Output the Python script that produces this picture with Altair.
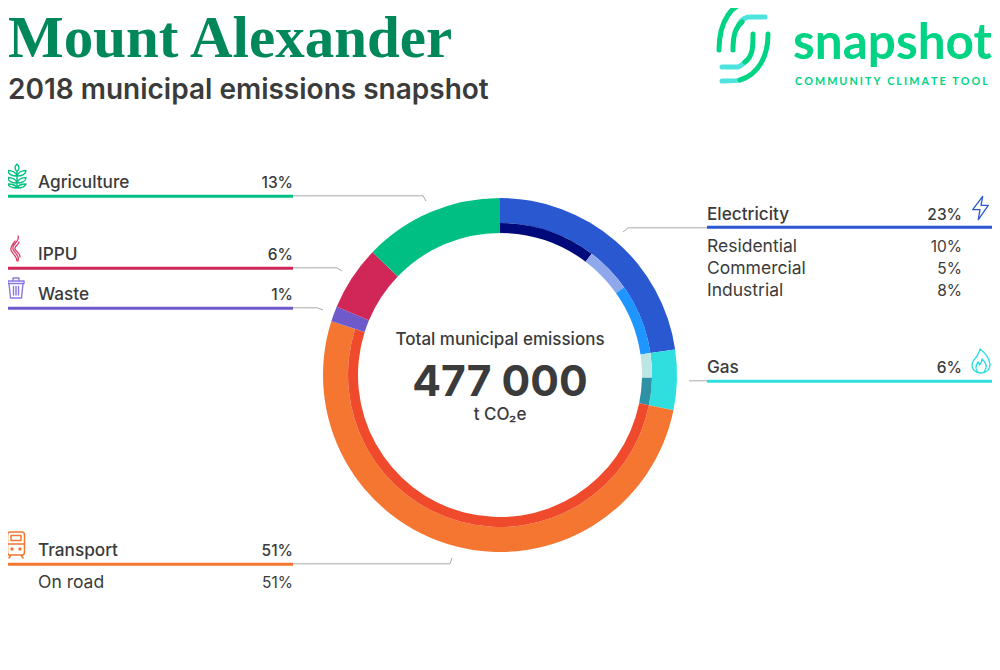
import altair as alt
import pandas as pd

W, H = 984, 640
XS = alt.Scale(domain=[8, 8 + W], range=[0, W], nice=False, zero=False)
YS = alt.Scale(domain=[8, 8 + H], range=[0, H], nice=False, zero=False)
TS = alt.Scale(domain=[0, 100], range=[0, 6.283185307])
X = alt.X("x:Q", scale=XS, axis=None)
Y = alt.Y("y:Q", scale=YS, axis=None)

INK = "#3b3b3c"
# ---- donut ----
CX, CY = 500, 375
outer_names = ["Electricity", "Gas", "Transport"]
outer_share = [22.7, 5.5, 51.7]
outer_colors = ["#2a58d0", "#2fdfdf", "#f47630"]
full_names = ["Waste", "IPPU", "Agriculture"]
full_share = [1.4, 5.9, 12.8]
full_colors = ["#6f5acb", "#d02758", "#00bf82"]
inner_names = ["Residential", "Commercial", "Industrial", "Gas a", "Gas b", "On road"]
inner_share = [10.3, 4.9, 7.5, 2.6, 2.9, 51.7]
inner_colors = ["#000a7a", "#8fa8ec", "#1e96ff", "#bde5e5", "#2f91a5", "#ef4a2c"]


def ring(names, share, colors, r0, r1, offset=0.0):
    rows, c = [], offset
    for n, s, col in zip(names, share, colors):
        rows.append({"x": CX, "y": CY, "name": n, "a": c, "b": c + s, "col": col})
        c += s
    return (
        alt.Chart(pd.DataFrame(rows))
        .mark_arc(radius=r1, radius2=r0)
        .encode(
            x=X, y=Y,
            theta=alt.Theta("a:Q", scale=TS),
            theta2="b:Q",
            color=alt.Color("col:N", scale=None),
        )
    )


# ---- legend rules ----
rule_names = ["Agriculture", "IPPU", "Waste", "Transport", "Electricity", "Gas"]
rule_x0 = [8, 8, 8, 8, 707, 707]
rule_x1 = [293, 293, 293, 293, 992, 992]
rule_y = [196.3, 268.3, 308.3, 564.3, 227.3, 381.3]
rule_colors = ["#00bf82", "#d02758", "#6f5acb", "#f47630", "#2a58d0", "#2fdfdf"]

# ---- leader lines ----
leader_id = ["ag", "ag", "ag", "ip", "ip", "ip", "wa", "wa", "wa", "tr", "tr", "tr", "el", "el", "el", "ga", "ga"]
leader_x = [293, 423, 426, 293, 337, 342, 293, 317, 323, 293, 450, 452, 707, 628, 623, 707, 689]
leader_y = [195.8, 195.8, 201, 267.8, 267.8, 271, 307.8, 307.8, 310, 563.8, 563.8, 558, 227.8, 227.8, 232, 380.8, 380.8]
leader_ord = [0, 1, 2] * 5 + [0, 1]

# ---- texts ----
head_text = ["Agriculture", "IPPU", "Waste", "Transport", "Electricity", "Gas"]
head_x = [38, 38, 38, 38, 707, 707]
head_y = [188, 260, 300, 556, 220, 373]
head_pct = ["13%", "6%", "1%", "51%", "23%", "6%"]
head_px = [293, 293, 293, 293, 962, 962]
sub_text = ["Residential", "Commercial", "Industrial", "On road"]
sub_x = [707, 707, 707, 38]
sub_y = [252, 274, 296, 588]
sub_pct = ["10%", "5%", "8%", "51%"]
sub_px = [962, 962, 962, 293]


def text(xs, ys, ts, size, weight, color=INK, align="left", font="Inter"):
    df = pd.DataFrame({"x": xs, "y": ys, "t": ts})
    return (
        alt.Chart(df)
        .mark_text(font=font, fontSize=size, fontWeight=weight, color=color, align=align, baseline="alphabetic")
        .encode(x=X, y=Y, text="t:N")
    )


def glyph(x, y, path, color, sw=1.0, cap="round", join="round"):
    df = pd.DataFrame({"x": [x], "y": [y], "p": [path]})
    return (
        alt.Chart(df)
        .mark_point(size=4, opacity=1, filled=False, color=color, strokeWidth=sw, strokeCap=cap, strokeJoin=join)
        .encode(x=X, y=Y, shape=alt.Shape("p:N", scale=None))
    )


WHEAT = (
    "M0,-12 C2.6,-10 2.6,-6.5 0,-4.5 C-2.6,-6.5 -2.6,-10 0,-12 Z M0,-4.5 L0,12 "
    "M0,0 C1,-3.5 5,-5.5 9,-5.5 C9,-2 5,0 0,0 Z M0,0 C-1,-3.5 -5,-5.5 -9,-5.5 C-9,-2 -5,0 0,0 Z "
    "M0,7 C1,3.5 5,1.5 9,1.5 C9,5 5,7 0,7 Z M0,7 C-1,3.5 -5,1.5 -9,1.5 C-9,5 -5,7 0,7 Z "
    "M0,12 C1,9.5 5,8 9,8 C8,11 5,12 0,12 Z M0,12 C-1,9.5 -5,8 -9,8 C-8,11 -5,12 0,12 Z"
)
SMOKE = (
    "M2,-13 C5,-8 -5,-5 -3,0 C-2,4 4,6 2,12 M-1,-8 C-3,-5 -6,-2 -5,1 C-4,5 1,7 1,12 "
    "M3,-7 C3,-4 -2,-3 -1,0 C0,3 4,4 4,8"
)
BIN = (
    "M-8,-6 L8,-6 L8,-3.5 L-8,-3.5 Z M-3,-6 L-3,-9 L3,-9 L3,-6 "
    "M-7,-3.5 L-5.5,11 L5.5,11 L7,-3.5 M-2.5,-0.5 L-2.5,8 M0,-0.5 L0,8 M2.5,-0.5 L2.5,8"
)
BOLT = "M2.7,-11.7 L-7.3,1.7 L0,1.7 L-1.7,11.7 L8.3,-2.7 L1,-2.7 Z"
FLAME = (
    "M0,12 C-6,12 -9,8 -9,4 C-9,0 -6,-2 -4,-5 C-3,-7 -1,-10 -1,-12 C3,-9 8,-4 9,3 C9,9 5,12 0,12 Z "
    "M-3,11 C-6,8 -5,4 -3,1 L-1.5,4 C0,2 1,0 1,-2 C4,1 6,4 5,7 C4,9 3,11 3,11"
)
TRAIN = (
    "M-6,-12 H6 Q8.5,-12 8.5,-9 V8 Q8.5,11 6,11 H-6 Q-8.5,11 -8.5,8 V-9 Q-8.5,-12 -6,-12 Z "
    "M-5,-8.5 H5 V-3.5 H-5 Z M-8.5,0 H8.5 M-5,11 L-7,14 M5,11 L7,14 "
    "M-4,4 a1,1 0 1,0 0.01,0 Z M4,4 a1,1 0 1,0 0.01,0 Z"
)
LOGO_GREEN = (
    "M-26,8 C-26,-22 -12,-39 3,-39 M-12,8 C-12,-6 -10,-14 -3,-20 "
    "M8,-8 C8,5 8,14 0,20 M23,-8 C23,14 14,32 -5,38"
)
LOGO_CYAN = "M3,-39 L20,-39 M-6,-18 C-3,-23 0,-25 5,-25 L20,-25 M0,20 C-3,23 -5,25 -8,25 L-23,25 M-5,38 C-8,39 -12,39 -23,39"

SPACE = "\u200a"
tagline = (SPACE * 3).join("COMMUNITY CLIMATE TOOL")

layers = [
    ring(outer_names, outer_share, outer_colors, 152, 177),
    ring(inner_names, inner_share, inner_colors, 142, 152),
    ring(full_names, full_share, full_colors, 142, 177, offset=sum(outer_share)),
    alt.Chart(pd.DataFrame({"id": leader_id, "x": leader_x, "y": leader_y, "o": leader_ord}))
    .mark_line(color="#aaaaaa", strokeWidth=1)
    .encode(x=X, y=Y, detail="id:N", order="o:Q"),
    alt.Chart(pd.DataFrame({"x": rule_x0, "x2": rule_x1, "y": rule_y, "c": rule_colors, "n": rule_names}))
    .mark_rule(strokeWidth=3)
    .encode(x=X, x2="x2:Q", y=Y, color=alt.Color("c:N", scale=None)),
    text(head_x, head_y, head_text, 17.2, 500),
    text(head_px, head_y, head_pct, 15.5, 500, align="right"),
    text(sub_x, sub_y, sub_text, 17.5, 400),
    text(sub_px, sub_y, sub_pct, 15.5, 400, align="right"),
    text([8], [56.5], ["Mount Alexander"], 59, 700, color="#00885a", font="Liberation Serif"),
    text([8], [99], ["2018 municipal emissions snapshot"], 28, 600),
    text([500], [345], ["Total municipal emissions"], 17, 500, align="center"),
    text([500], [396], ["477 000"], 42.6, 700, align="center"),
    text([500], [420], ["t CO\u2082e"], 17, 500, align="center"),
    text([793], [59], ["snapshot"], 49.5, 700, color="#00d484", font="Lato"),
    text([795], [85], [tagline], 10.8, 700, color="#00d484", font="Lato"),
    glyph(745, 42, LOGO_CYAN, "#4de3de", sw=5),
    glyph(745, 42, LOGO_GREEN, "#00d484", sw=5),
    glyph(17, 176, WHEAT, "#00bf82", sw=1.4),
    glyph(16, 249, SMOKE, "#d8406c", sw=1.3),
    glyph(16, 287, BIN, "#8a78e0", sw=1.4),
    glyph(980, 208, BOLT, "#2a58d0", sw=1.3),
    glyph(981, 361, FLAME, "#2fdfdf", sw=1.4),
    glyph(16, 544, TRAIN, "#f47630", sw=1.5),
]

chart = (
    alt.layer(*layers)
    .properties(width=W, height=H, autosize=alt.AutoSizeParams(type="none"), padding=0)
    .configure_view(stroke=None)
)
chart.save("out.html", embed_options={"renderer": "svg", "actions": False})
